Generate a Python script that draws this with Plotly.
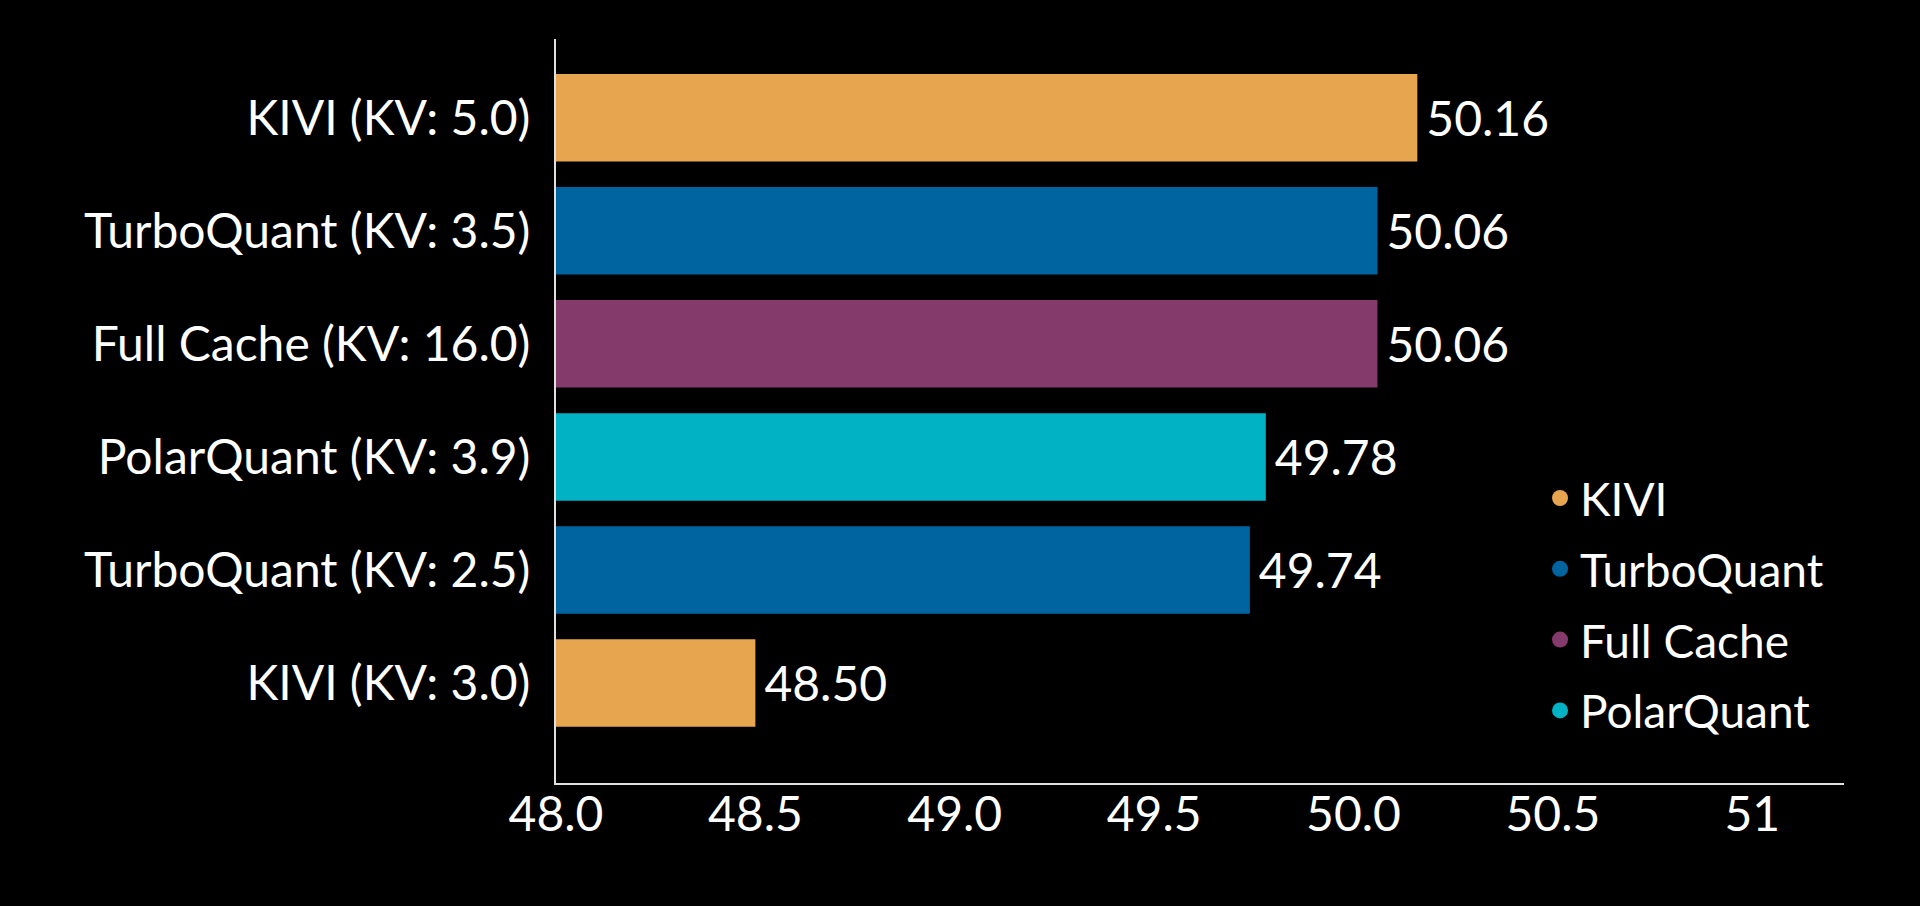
import plotly.graph_objects as go

# ---- data ----
categories = ["KIVI (KV: 5.0)", "TurboQuant (KV: 3.5)", "Full Cache (KV: 16.0)",
              "PolarQuant (KV: 3.9)", "TurboQuant (KV: 2.5)", "KIVI (KV: 3.0)"]
methods = ["KIVI", "TurboQuant", "Full Cache", "PolarQuant", "TurboQuant", "KIVI"]
scores = [50.16, 50.06, 50.06, 49.78, 49.74, 48.50]
legend_order = ["KIVI", "TurboQuant", "Full Cache", "PolarQuant"]
tick_vals = [48.0, 48.5, 49.0, 49.5, 50.0, 50.5, 51.0]
tick_text = ["48.0", "48.5", "49.0", "49.5", "50.0", "50.5", "51"]

colors = {"KIVI": "#E8A550", "TurboQuant": "#0064A0",
          "Full Cache": "#843A6B", "PolarQuant": "#00B2C4"}

FONT = "Lato, 'Open Sans', sans-serif"

fig = go.Figure()
for m in legend_order:
    ys = [c for c, mm in zip(categories, methods) if mm == m]
    xs = [s for s, mm in zip(scores, methods) if mm == m]
    fig.add_trace(go.Bar(
        x=xs, y=ys, orientation="h", name=m,
        marker=dict(color=colors[m], line=dict(width=0)),
        width=0.774,
        texttemplate="\u2009%{x:.2f}", textposition="outside",
        textfont=dict(color="white", size=48, family=FONT),
        cliponaxis=False, showlegend=False, hoverinfo="x+y",
    ))
for m in legend_order:
    fig.add_trace(go.Scatter(
        x=[None], y=[None], mode="markers", name=m, legendgroup=m,
        marker=dict(color=colors[m], size=16, symbol="circle"),
        showlegend=True,
    ))

fig.update_layout(
    width=1920, height=906, autosize=False,
    paper_bgcolor="black", plot_bgcolor="black",
    margin=dict(l=556, r=76, t=39, b=123),
    barmode="overlay",
    font=dict(family=FONT, color="white", size=46),
    legend=dict(x=0.764, xanchor="left", y=0.432, yanchor="top",
                bgcolor="rgba(0,0,0,0)", font=dict(size=46, color="white", family=FONT),
                tracegroupgap=8),
    xaxis=dict(range=[48, 51.23], tickvals=tick_vals, ticktext=tick_text,
               showgrid=False, zeroline=False, showline=True, linecolor="#e0e0e0",
               linewidth=2, ticks="", tickfont=dict(size=48, color="white", family=FONT),
               ticklabelstandoff=-12),
    yaxis=dict(categoryorder="array", categoryarray=categories, type="category",
               range=[5.885, -0.697], showgrid=False, zeroline=False, showline=True,
               linecolor="#e0e0e0", linewidth=2, ticks="",
               tickfont=dict(size=48, color="white", family=FONT),
               ticklabelstandoff=14),
)

fig.write_html("out.html", config={"displayModeBar": False},
               post_script="document.body.style.margin='0';document.body.style.overflow='hidden';")
